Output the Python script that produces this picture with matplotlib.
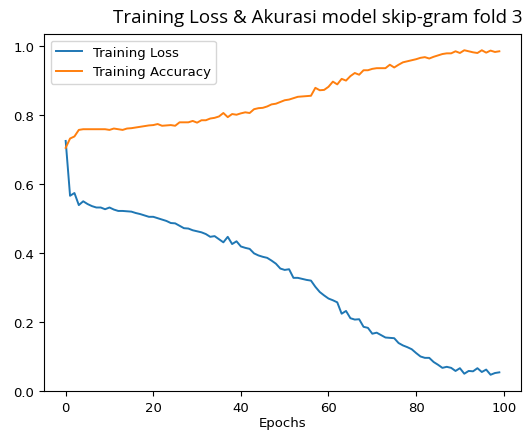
import matplotlib
matplotlib.use('Agg')
import matplotlib.pyplot as plt

# values, epochs 0..99
loss = [0.725, 0.566, 0.574, 0.539, 0.550, 0.542, 0.536, 0.532, 0.532, 0.527,
        0.532, 0.526, 0.522, 0.522, 0.521, 0.520, 0.516, 0.513, 0.509, 0.505,
        0.505, 0.501, 0.497, 0.493, 0.487, 0.486, 0.479, 0.472, 0.471, 0.466,
        0.463, 0.460, 0.455, 0.447, 0.449, 0.440, 0.431, 0.447, 0.426, 0.434,
        0.419, 0.415, 0.412, 0.399, 0.393, 0.389, 0.386, 0.378, 0.369, 0.355,
        0.351, 0.353, 0.328, 0.328, 0.325, 0.322, 0.320, 0.302, 0.287, 0.277,
        0.268, 0.263, 0.257, 0.224, 0.232, 0.211, 0.207, 0.208, 0.186, 0.183,
        0.166, 0.169, 0.162, 0.155, 0.154, 0.153, 0.139, 0.132, 0.127, 0.121,
        0.110, 0.100, 0.096, 0.096, 0.084, 0.076, 0.067, 0.070, 0.067, 0.058,
        0.066, 0.050, 0.058, 0.057, 0.066, 0.055, 0.062, 0.047, 0.052, 0.054]

accuracy = [0.705, 0.732, 0.738, 0.757, 0.759, 0.759, 0.759, 0.759, 0.759, 0.759,
            0.757, 0.761, 0.759, 0.757, 0.761, 0.762, 0.764, 0.766, 0.768, 0.770,
            0.771, 0.774, 0.769, 0.770, 0.771, 0.769, 0.779, 0.779, 0.779, 0.783,
            0.778, 0.785, 0.785, 0.790, 0.792, 0.796, 0.806, 0.794, 0.803, 0.801,
            0.805, 0.808, 0.806, 0.817, 0.820, 0.821, 0.825, 0.831, 0.833, 0.838,
            0.843, 0.845, 0.849, 0.853, 0.854, 0.855, 0.856, 0.879, 0.872, 0.873,
            0.882, 0.897, 0.889, 0.905, 0.900, 0.913, 0.922, 0.917, 0.930, 0.930,
            0.934, 0.936, 0.936, 0.936, 0.946, 0.938, 0.946, 0.953, 0.956, 0.959,
            0.962, 0.966, 0.968, 0.964, 0.969, 0.973, 0.977, 0.979, 0.979, 0.985,
            0.980, 0.988, 0.985, 0.982, 0.980, 0.988, 0.981, 0.987, 0.983, 0.985]

epochs = list(range(len(loss)))

plt.rcParams['font.size'] = 9.5
plt.rcParams['lines.linewidth'] = 1.4

fig = plt.figure(figsize=(5.25, 4.35), dpi=100)
ax = fig.add_axes([0.0838, 0.0989, 0.9086, 0.8206])

ax.plot(epochs, loss, label='Training Loss')
ax.plot(epochs, accuracy, label='Training Accuracy')
ax.set_xlabel('Epochs', labelpad=2)
ax.legend(loc='upper left')

fig.text(318 / 525, 1 - 18 / 435, 'Training Loss & Akurasi model skip-gram fold 3',
         ha='center', va='center', family='Open Sans', fontsize=13.5)

fig.savefig('out.png', dpi=100)
